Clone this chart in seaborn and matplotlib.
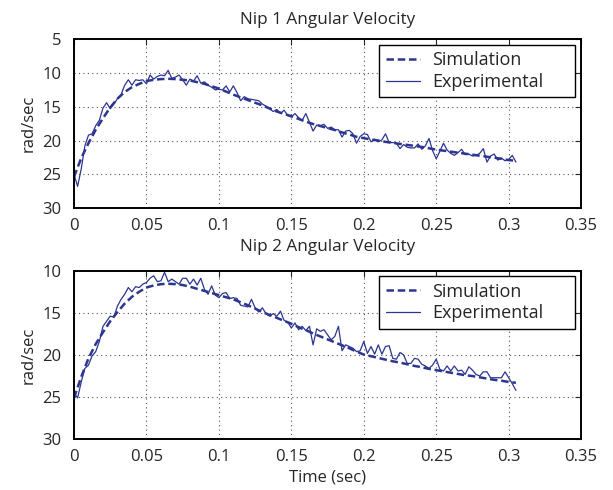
import numpy as np
import pandas as pd
import matplotlib
matplotlib.use("Agg")
import matplotlib.pyplot as plt
import seaborn as sns

# ---------------- data ----------------
sim_dt = 0.005
exp_dt = 0.0025

nip1_sim = [25.4, 22.6, 20.4, 18.4, 16.7, 15.1, 13.8, 12.8, 12.1, 11.6,
            11.2, 11.0, 10.9, 10.85, 10.9, 11.0, 11.1, 11.35, 11.6, 11.95,
            12.3, 12.75, 13.2, 13.6, 14.0, 14.4, 14.8, 15.25, 15.7, 16.05,
            16.4, 16.8, 17.2, 17.55, 17.85, 18.15, 18.45, 18.8, 19.1, 19.45,
            19.65, 19.85, 20.0, 20.2, 20.35, 20.5, 20.65, 20.8, 20.95, 21.15,
            21.35, 21.5, 21.65, 21.8, 21.95, 22.1, 22.25, 22.4, 22.55, 22.7,
            22.9, 23.0]

nip1_exp = [25.0, 26.8, 24.2, 20.8, 19.2, 19.0, 17.8, 17.0, 15.2, 14.4,
            15.3, 14.6, 13.8, 13.2, 11.8, 11.0, 11.8, 11.0, 11.1, 11.0,
            11.6, 10.3, 10.9, 10.5, 10.3, 10.4, 9.6, 10.8, 10.6, 10.3,
            11.0, 11.8, 10.9, 11.2, 10.4, 11.5, 11.3, 11.8, 12.1, 12.5,
            12.4, 12.5, 11.9, 12.8, 11.9, 12.9, 14.1, 13.5, 13.8, 13.9,
            14.0, 14.1, 14.6, 14.9, 15.3, 15.7, 15.4, 16.0, 15.5, 16.3,
            16.5, 16.0, 16.6, 17.0, 16.0, 17.3, 18.6, 17.7, 17.8, 17.6,
            18.2, 18.0, 18.4, 18.4, 19.5, 18.6, 18.5, 19.0, 20.4, 19.4,
            19.0, 19.1, 20.2, 19.8, 20.2, 19.9, 19.0, 20.3, 20.3, 20.4,
            21.2, 20.6, 21.0, 21.1, 21.1, 20.5, 21.3, 20.8, 19.7, 21.5,
            22.7, 21.6, 20.4, 21.4, 21.9, 22.2, 21.8, 21.3, 22.1, 22.0,
            22.3, 22.2, 21.9, 21.2, 23.2, 22.3, 22.0, 22.9, 22.6, 23.0,
            22.8, 22.2, 23.2]

nip2_sim = [25.1, 22.6, 20.4, 18.7, 17.3, 16.0, 14.9, 13.9, 13.1, 12.5,
            12.0, 11.75, 11.6, 11.55, 11.6, 11.7, 11.9, 12.15, 12.4, 12.65,
            12.9, 13.15, 13.4, 13.75, 14.1, 14.5, 14.9, 15.25, 15.6, 15.95,
            16.3, 16.7, 17.05, 17.45, 17.8, 18.15, 18.5, 18.85, 19.2, 19.6,
            19.95, 20.15, 20.35, 20.55, 20.75, 20.9, 21.1, 21.3, 21.45, 21.65,
            21.8, 21.95, 22.1, 22.25, 22.4, 22.5, 22.65, 22.8, 22.95, 23.05,
            23.2, 23.3]

nip2_exp = [24.5, 25.1, 23.2, 21.6, 21.2, 20.1, 19.6, 18.4, 16.6, 16.0,
            15.4, 15.5, 14.2, 13.4, 12.8, 12.0, 12.5, 11.9, 12.0, 11.6,
            11.4, 10.9, 10.6, 11.3, 11.2, 10.2, 11.3, 11.0, 11.3, 11.6,
            10.9, 10.9, 11.6, 11.0, 11.7, 10.9, 12.2, 12.8, 11.8, 12.9,
            13.2, 12.7, 12.6, 13.3, 13.2, 13.3, 14.1, 14.2, 14.3, 13.4,
            14.4, 14.9, 14.4, 15.1, 15.4, 15.1, 15.4, 14.8, 15.9, 16.1,
            16.8, 16.2, 17.0, 16.6, 17.1, 16.6, 18.8, 16.9, 17.2, 17.0,
            17.6, 18.2, 17.8, 16.6, 19.5, 18.8, 19.0, 19.2, 19.6, 19.5,
            18.4, 19.8, 19.0, 19.9, 18.8, 19.9, 19.0, 18.9, 20.4, 20.5,
            19.7, 20.0, 21.0, 21.0, 20.4, 20.5, 21.1, 21.3, 21.6, 21.2,
            20.5, 21.7, 21.9, 21.3, 21.9, 21.3, 21.9, 21.8, 22.3, 21.4,
            21.8, 22.3, 22.5, 22.0, 22.0, 22.7, 22.7, 22.7, 22.7, 22.0,
            22.7, 23.4, 24.2]

titles = ["Nip 1 Angular Velocity", "Nip 2 Angular Velocity"]
ylims = [(30, 5), (30, 10)]
yticks = [[5, 10, 15, 20, 25, 30], [10, 15, 20, 25, 30]]
xticks = [0, 0.05, 0.1, 0.15, 0.2, 0.25, 0.3, 0.35]
xticklabels = ["0", "0.05", "0.1", "0.15", "0.2", "0.25", "0.3", "0.35"]

# ---------------- plotting ----------------
sns.set_style("white")
plt.rcParams["font.family"] = ["Open Sans", "DejaVu Sans"]
plt.rcParams["xtick.direction"] = "in"
plt.rcParams["ytick.direction"] = "in"

color = "#2c3590"
fig = plt.figure(figsize=(6.13, 4.90), dpi=100)
ax1 = fig.add_axes([0.1207, 0.5755, 0.8273, 0.3443])
ax2 = fig.add_axes([0.1207, 0.1035, 0.8273, 0.3441])

for ax, sim, exp, title, yl, yt, tpad in zip([ax1, ax2], [nip1_sim, nip2_sim],
                                            [nip1_exp, nip2_exp], titles, ylims,
                                            yticks, [11, 14]):
    df_sim = pd.DataFrame({"t": np.arange(len(sim)) * sim_dt, "v": sim})
    df_exp = pd.DataFrame({"t": np.arange(len(exp)) * exp_dt, "v": exp})
    sns.lineplot(data=df_sim, x="t", y="v", ax=ax, color=color, lw=1.8,
                 linestyle=(0, (3, 1.5)), label="Simulation")
    sns.lineplot(data=df_exp, x="t", y="v", ax=ax, color=color, lw=0.9,
                 label="Experimental")
    ax.set_xlim(0, 0.35)
    ax.set_ylim(*yl)
    ax.set_yticks(yt)
    ax.set_xticks(xticks)
    ax.set_xticklabels(xticklabels)
    ax.set_title(title, fontsize=12.3, pad=tpad)
    ax.set_ylabel("rad/sec", fontsize=12, labelpad=4)
    ax.set_xlabel("")
    ax.grid(True, linestyle=(0, (1, 3)), color="#555555", lw=0.8)
    ax.tick_params(labelsize=12, length=4, width=0.8, top=True, right=True)
    ax.tick_params(axis="x", pad=7)
    ax.tick_params(axis="y", pad=9)
    for s in ax.spines.values():
        s.set_color("black")
        s.set_linewidth(1.4)
    leg = ax.legend(loc="upper right", bbox_to_anchor=(0.602, 0.5, 0.386, 0.466),
                    mode="expand", borderaxespad=0, fontsize=13, frameon=True,
                    fancybox=False, framealpha=1, edgecolor="black",
                    handlelength=1.9, handletextpad=0.7, borderpad=0.35,
                    labelspacing=0.2)
    leg.get_frame().set_linewidth(1.0)

ax2.set_xlabel("Time (sec)", fontsize=12, labelpad=3)

fig.savefig("out.png", dpi=100)
